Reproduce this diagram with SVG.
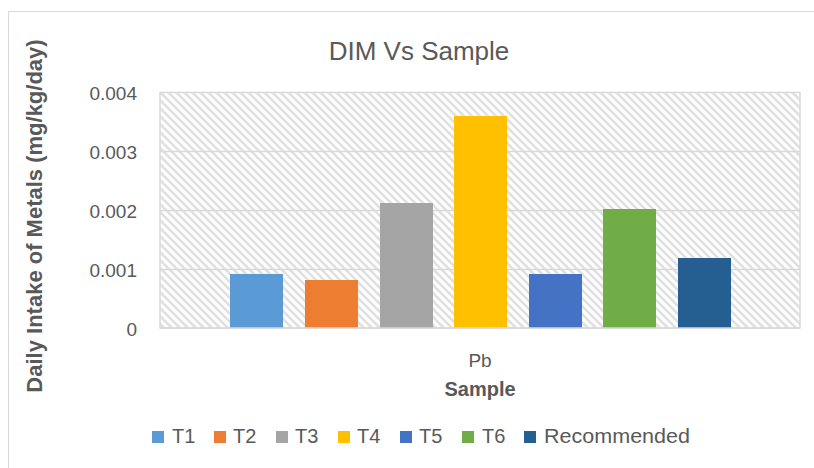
<svg xmlns="http://www.w3.org/2000/svg" width="814" height="468" viewBox="0 0 814 468">
<style>
text { font-family: "Liberation Sans", Arial, sans-serif; fill: #595959; }
.tick { font-size: 19px; text-anchor: end; }
.grid { stroke: #d9d9d9; stroke-width: 1.5; fill: none; }
.leg { font-size: 20px; }
.bold { font-weight: bold; }
</style>
<defs>
<pattern id="hatch" patternUnits="userSpaceOnUse" x="160" y="92" width="8" height="8">
<rect width="8" height="8" fill="#ffffff"/>
<path d="M-2,-2 L10,10 M-2,6 L2,10 M6,-2 L10,2" stroke="#e0e0e0" stroke-width="2.6"/>
</pattern>
</defs>
<rect x="0" y="0" width="814" height="468" fill="#ffffff"/>
<rect x="8.5" y="11.5" width="900" height="600" fill="none" stroke="#d9d9d9" stroke-width="1"/>
<text id="title" x="419" y="60" font-size="26" text-anchor="middle">DIM Vs Sample</text>
<g id="plot">
<rect x="160" y="92" width="640" height="236" fill="url(#hatch)"/>
<line class="grid" x1="160" y1="151.5" x2="800" y2="151.5"/>
<line class="grid" x1="160" y1="210.5" x2="800" y2="210.5"/>
<line class="grid" x1="160" y1="269.5" x2="800" y2="269.5"/>
<rect class="grid" x="160" y="92.5" width="640" height="235.5"/>
</g>
<g id="yaxis">
<text class="tick" x="137" y="100">0.004</text>
<text class="tick" x="137" y="159">0.003</text>
<text class="tick" x="137" y="218">0.002</text>
<text class="tick" x="137" y="277">0.001</text>
<text class="tick" x="137" y="336">0</text>
<text class="bold" font-size="22" text-anchor="middle" transform="translate(42,216) rotate(-90)">Daily Intake of Metals (mg/kg/day)</text>
</g>
<g id="bars">
<rect id="T1" x="230" y="274" width="53" height="54" fill="#5B9BD5"/>
<rect id="T2" x="305" y="280" width="53" height="48" fill="#ED7D31"/>
<rect id="T3" x="380" y="203" width="53" height="125" fill="#A5A5A5"/>
<rect id="T4" x="454" y="116" width="53" height="212" fill="#FFC000"/>
<rect id="T5" x="529" y="274" width="53" height="54" fill="#4472C4"/>
<rect id="T6" x="603" y="209" width="53" height="119" fill="#70AD47"/>
<rect id="Rec" x="678" y="258" width="53" height="70" fill="#255E91"/>
</g>
<line class="grid" x1="160" y1="328" x2="800" y2="328"/>
<text x="480" y="367" font-size="19" text-anchor="middle">Pb</text>
<text class="bold" x="480" y="396" font-size="20" text-anchor="middle">Sample</text>
<g id="legend">
<rect x="152" y="431" width="12" height="12" fill="#5B9BD5"/><text class="leg" x="172" y="443">T1</text>
<rect x="214" y="431" width="12" height="12" fill="#ED7D31"/><text class="leg" x="233" y="443">T2</text>
<rect x="276" y="431" width="12" height="12" fill="#A5A5A5"/><text class="leg" x="295" y="443">T3</text>
<rect x="338" y="431" width="12" height="12" fill="#FFC000"/><text class="leg" x="357" y="443">T4</text>
<rect x="400" y="431" width="12" height="12" fill="#4472C4"/><text class="leg" x="419" y="443">T5</text>
<rect x="462" y="431" width="12" height="12" fill="#70AD47"/><text class="leg" x="482" y="443">T6</text>
<rect x="524" y="431" width="12" height="12" fill="#255E91"/><text class="leg" x="544" y="443" textLength="146" lengthAdjust="spacingAndGlyphs">Recommended</text>
</g>
</svg>
